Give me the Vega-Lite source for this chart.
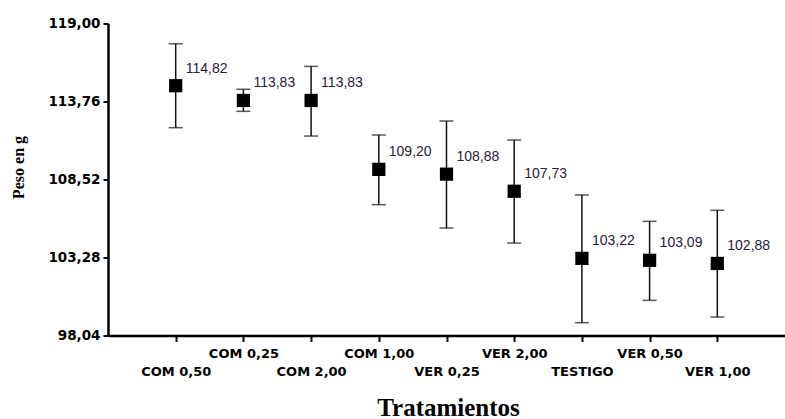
{
  "$schema": "https://vega.github.io/schema/vega-lite/v6.json",
  "autosize": "none",
  "padding": {"left": 108, "top": 23.5, "right": 0, "bottom": 83.5},
  "width": 677,
  "height": 312,
  "background": "white",
  "config": {
    "view": {"stroke": null},
    "locale": {"number": {"decimal": ",", "thousands": ".", "grouping": [3], "currency": ["", ""]}}
  },
  "data": {
    "values": [
      {"tratamiento": "COM 0,50", "media": 114.82, "inf": 112.00, "sup": 117.64},
      {"tratamiento": "COM 0,25", "media": 113.83, "inf": 113.10, "sup": 114.58},
      {"tratamiento": "COM 2,00", "media": 113.83, "inf": 111.44, "sup": 116.12},
      {"tratamiento": "COM 1,00", "media": 109.20, "inf": 106.83, "sup": 111.51},
      {"tratamiento": "VER 0,25", "media": 108.88, "inf": 105.26, "sup": 112.45},
      {"tratamiento": "VER 2,00", "media": 107.73, "inf": 104.25, "sup": 111.17},
      {"tratamiento": "TESTIGO", "media": 103.22, "inf": 98.90, "sup": 107.48},
      {"tratamiento": "VER 0,50", "media": 103.09, "inf": 100.40, "sup": 105.71},
      {"tratamiento": "VER 1,00", "media": 102.88, "inf": 99.28, "sup": 106.45}
    ]
  },
  "encoding": {
    "x": {
      "field": "tratamiento",
      "type": "nominal",
      "sort": null,
      "scale": {"type": "point", "padding": 1},
      "axis": {
        "title": "Tratamientos",
        "titleFont": "Liberation Serif",
        "titleFontSize": 25,
        "titleFontWeight": "bold",
        "titleColor": "#000",
        "titleX": 340,
        "titleY": 79.5,
        "titleBaseline": "alphabetic",
        "titleAlign": "center",
        "labelAngle": 0,
        "labelFont": "DejaVu Sans",
        "labelFontSize": 13,
        "labelFontWeight": "bold",
        "labelColor": "#000",
        "labelPadding": {"condition": {"test": "indexof(['COM 0,25','COM 1,00','VER 2,00','VER 0,50'], datum.value) >= 0", "value": 6}, "value": 24},
        "domainColor": "#000",
        "domainWidth": 2.5,
        "tickColor": "#000",
        "tickWidth": 2,
        "tickSize": 6,
        "grid": false
      }
    }
  },
  "layer": [
    {
      "mark": {"type": "rule", "color": "#111", "strokeWidth": 1.5},
      "encoding": {
        "y": {
          "field": "inf",
          "type": "quantitative",
          "scale": {"domain": [98.04, 119], "nice": false, "zero": false},
          "axis": {
            "title": "Peso en g",
            "titleFont": "Liberation Serif",
            "titleFontSize": 16,
            "titleFontWeight": "bold",
            "titleColor": "#000",
            "titleX": -85,
            "titleY": 143.5,
            "titleAngle": -90,
            "titleAlign": "center",
            "titleBaseline": "alphabetic",
            "values": [98.04, 103.28, 108.52, 113.76, 119],
            "format": ".2f",
            "labelFont": "DejaVu Sans",
            "labelFontSize": 13.5,
            "labelFontWeight": "bold",
            "labelColor": "#000",
            "labelPadding": 3,
            "domainColor": "#000",
            "domainWidth": 2.5,
            "tickColor": "#000",
            "tickWidth": 2,
            "tickSize": 5,
            "grid": false
          }
        },
        "y2": {"field": "sup"}
      }
    },
    {
      "mark": {"type": "tick", "color": "#111", "size": 14, "thickness": 1.5},
      "encoding": {"y": {"field": "inf", "type": "quantitative"}}
    },
    {
      "mark": {"type": "tick", "color": "#111", "size": 14, "thickness": 1.5},
      "encoding": {"y": {"field": "sup", "type": "quantitative"}}
    },
    {
      "mark": {"type": "point", "shape": "square", "filled": true, "size": 175, "color": "#000", "opacity": 1},
      "encoding": {"y": {"field": "media", "type": "quantitative"}}
    },
    {
      "mark": {"type": "text", "align": "left", "baseline": "middle", "dx": 10, "dy": -17, "font": "Liberation Sans", "fontSize": 14, "color": "#2a2038"},
      "encoding": {
        "y": {"field": "media", "type": "quantitative"},
        "text": {"field": "media", "type": "quantitative", "format": ".2f"}
      }
    }
  ]
}
